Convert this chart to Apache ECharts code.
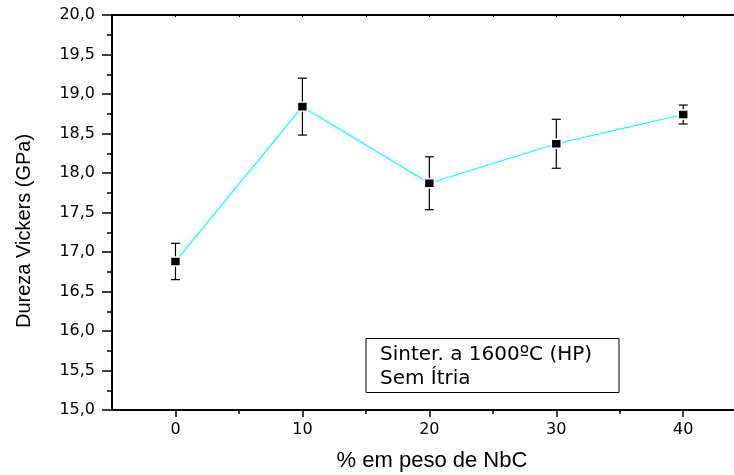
<!DOCTYPE html>
<html>
<head>
<meta charset="utf-8">
<script src="https://cdn.jsdelivr.net/npm/echarts@6/dist/echarts.min.js"></script>
<style>
html,body{margin:0;padding:0;background:#fff;}
#chart{width:734px;height:475px;}
</style>
</head>
<body>
<div id="chart"></div>
<script>
// Data
const nbc = [0, 10, 20, 30, 40];
const hardness = [16.88, 18.84, 17.87, 18.37, 18.74];
const hardnessErr = [0.23, 0.36, 0.335, 0.31, 0.12];
const xMajorTicks = [0, 10, 20, 30, 40];
const xMinorTicks = [5, 15, 25, 35];
const xTopTicks = [0, 5, 10, 15, 20, 25, 30, 35, 40];
const xTitle = '% em peso de NbC';
const yTitle = 'Dureza Vickers (GPa)';
const noteLines = ['Sinter. a 1600ºC (HP)', 'Sem Ítria'];

const points = nbc.map((x, i) => [x, hardness[i]]);
const errData = nbc.map((x, i) => [x, hardness[i], hardnessErr[i]]);

const chart = echarts.init(document.getElementById('chart'), null, {renderer: 'canvas'});
const axisColor = '#000';
const option = {
  animation: false,
  backgroundColor: '#fff',
  grid: {left: 112, right: 0, top: 15, bottom: 65, containLabel: false, outerBoundsMode: 'none'},
  xAxis: [
    {
      type: 'value', min: -5, max: 44, position: 'bottom',
      axisLine: {show: true, onZero: false, lineStyle: {color: axisColor, width: 2}},
      axisTick: {show: true, customValues: xMajorTicks, length: 7, lineStyle: {color: axisColor, width: 1.5}},
      axisLabel: {show: true, customValues: xMajorTicks, margin: 12, color: '#000',
        fontFamily: 'DejaVu Sans', fontSize: 16},
      splitLine: {show: false}
    },
    {
      type: 'value', min: -5, max: 44, position: 'bottom',
      axisLine: {show: false, onZero: false},
      axisTick: {show: true, customValues: xMinorTicks, length: 4, lineStyle: {color: axisColor, width: 1.5}},
      axisLabel: {show: false},
      splitLine: {show: false}
    },
    {
      type: 'value', min: -5, max: 44, position: 'top',
      axisLine: {show: true, onZero: false, lineStyle: {color: axisColor, width: 2}},
      axisTick: {show: true, inside: true, customValues: xTopTicks, length: 2, lineStyle: {color: axisColor, width: 1}},
      axisLabel: {show: false},
      splitLine: {show: false}
    }
  ],
  yAxis: {
    type: 'value', min: 15, max: 20, interval: 0.5,
    axisLine: {show: true, onZero: false, lineStyle: {color: axisColor, width: 2}},
    axisTick: {show: true, length: 10, lineStyle: {color: axisColor, width: 1.5}},
    minorTick: {show: true, splitNumber: 2, length: 5, lineStyle: {color: axisColor, width: 1.5}},
    axisLabel: {margin: 17, color: '#000', fontFamily: 'DejaVu Sans', fontSize: 16,
      formatter: v => v.toFixed(1).replace('.', ',')},
    splitLine: {show: false}
  },
  series: [
    {
      type: 'custom',
      xAxisIndex: 0,
      z: 2,
      data: errData,
      renderItem: function (params, api) {
        const x = api.value(0), y = api.value(1), e = api.value(2);
        const top = api.coord([x, y + e]);
        const bot = api.coord([x, y - e]);
        const hw = 4.5;
        const st = {stroke: '#000', lineWidth: 1.2};
        return {
          type: 'group',
          children: [
            {type: 'line', shape: {x1: top[0], y1: top[1], x2: bot[0], y2: bot[1]}, style: st},
            {type: 'line', shape: {x1: top[0] - hw, y1: top[1], x2: top[0] + hw, y2: top[1]}, style: st},
            {type: 'line', shape: {x1: bot[0] - hw, y1: bot[1], x2: bot[0] + hw, y2: bot[1]}, style: st}
          ]
        };
      }
    },
    {
      type: 'line',
      xAxisIndex: 0,
      z: 3,
      data: points,
      symbol: 'rect',
      symbolSize: [10, 9],
      lineStyle: {color: '#00ffff', width: 1.2},
      itemStyle: {color: '#000', borderColor: '#fff', borderWidth: 1.5},
      emphasis: {disabled: true}
    }
  ],
  graphic: [
    {
      type: 'text', x: 432, y: 461,
      style: {text: xTitle, fill: '#000', fontFamily: 'Liberation Sans', fontSize: 22,
        textAlign: 'center', textVerticalAlign: 'middle'}
    },
    {
      type: 'text', x: 24, y: 231, rotation: Math.PI / 2,
      style: {text: yTitle, fill: '#000', fontFamily: 'Liberation Sans', fontSize: 20,
        textAlign: 'center', textVerticalAlign: 'middle'}
    },
    {
      type: 'rect', shape: {x: 366, y: 338.5, width: 253, height: 54},
      style: {fill: '#fff', stroke: '#000', lineWidth: 1}
    },
    {
      type: 'text', x: 380, y: 355,
      style: {text: noteLines[0], fill: '#000', fontFamily: 'DejaVu Sans', fontSize: 20,
        textAlign: 'left', textVerticalAlign: 'middle'}
    },
    {
      type: 'text', x: 380, y: 379,
      style: {text: noteLines[1], fill: '#000', fontFamily: 'DejaVu Sans', fontSize: 20,
        textAlign: 'left', textVerticalAlign: 'middle'}
    }
  ]
};
chart.setOption(option);
</script>
</body>
</html>
